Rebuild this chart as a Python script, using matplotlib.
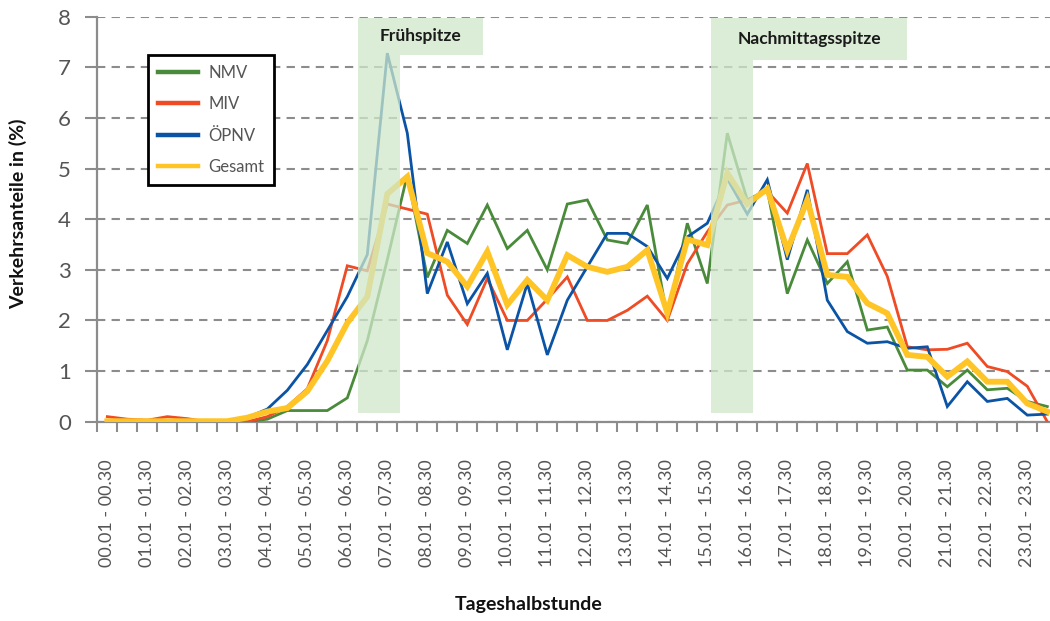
import matplotlib
matplotlib.use("Agg")
import matplotlib.pyplot as plt
from matplotlib.patches import Polygon
import numpy as np

plt.rcParams['font.family'] = ['Lato', 'DejaVu Sans']

# Tageshalbstunden (48 Werte, beschriftet wird jede zweite)
slot_labels = ["00.01 - 00.30", "01.01 - 01.30", "02.01 - 02.30", "03.01 - 03.30",
               "04.01 - 04.30", "05.01 - 05.30", "06.01 - 06.30", "07.01 - 07.30",
               "08.01 - 08.30", "09.01 - 09.30", "10.01 - 10.30", "11.01 - 11.30",
               "12.01 - 12.30", "13.01 - 13.30", "14.01 - 14.30", "15.01 - 15.30",
               "16.01 - 16.30", "17.01 - 17.30", "18.01 - 18.30", "19.01 - 19.30",
               "20.01 - 20.30", "21.01 - 21.30", "22.01 - 22.30", "23.01 - 23.30"]

nmv = [0, 0, 0, 0, 0, 0, 0, 0, 0.05, 0.22, 0.22, 0.22, 0.47, 1.6, 3.2, 4.88,
       2.85, 3.78, 3.52, 4.28, 3.42, 3.78, 3.0, 4.3, 4.38, 3.59, 3.52, 4.28, 2.05, 3.92,
       2.73, 5.7, 4.38, 4.58, 2.53, 3.59, 2.73, 3.16, 1.81, 1.87, 1.02, 1.02, 0.69, 1.02,
       0.63, 0.66, 0.4, 0.3]
miv = [0.1, 0.05, 0.03, 0.1, 0.06, 0, 0, 0, 0.1, 0.3, 0.65, 1.6, 3.08, 2.98, 4.3, 4.2,
       4.1, 2.5, 1.92, 2.83, 2.0, 2.0, 2.42, 2.86, 2.0, 2.0, 2.2, 2.48, 2.0, 3.12,
       3.75, 4.28, 4.38, 4.55, 4.12, 5.1, 3.32, 3.32, 3.69, 2.87, 1.48, 1.42, 1.43, 1.55,
       1.09, 0.99, 0.7, 0.0]
opnv = [0, 0, 0, 0, 0, 0, 0.02, 0.08, 0.25, 0.62, 1.13, 1.8, 2.47, 3.3, 7.28, 5.7,
        2.53, 3.55, 2.33, 2.93, 1.42, 2.73, 1.32, 2.4, 3.06, 3.72, 3.72, 3.46, 2.83, 3.65,
        3.92, 4.8, 4.1, 4.78, 3.2, 4.58, 2.4, 1.78, 1.55, 1.58, 1.45, 1.48, 0.3, 0.79,
        0.4, 0.46, 0.13, 0.15]
gesamt = [0.01, 0.01, 0.01, 0.01, 0.01, 0.01, 0.01, 0.08, 0.2, 0.27, 0.6, 1.2, 1.95, 2.47, 4.5, 4.84,
          3.33, 3.16, 2.67, 3.36, 2.31, 2.8, 2.4, 3.29, 3.06, 2.96, 3.06, 3.39, 2.15, 3.6,
          3.49, 4.91, 4.3, 4.6, 3.39, 4.38, 2.9, 2.86, 2.34, 2.14, 1.32, 1.28, 0.89, 1.19,
          0.79, 0.79, 0.36, 0.2]

series = [("NMV", nmv, "#4a8b3b", 2.0),
          ("MIV", miv, "#ef4b24", 2.0),
          ("ÖPNV", opnv, "#0a53a5", 2.0),
          ("Gesamt", gesamt, "#ffc425", 4.2)]

# Spitzen: (Text, Band von/bis, Kasten bis, Kastenunterkante)
peaks = [("Frühspitze", 12.53, 14.63, 18.8, 7.25),
         ("Nachmittagsspitze", 30.17, 32.27, 40.0, 7.15)]

fig = plt.figure(figsize=(10.5, 6.21), dpi=100)
ax = fig.add_axes([97.3 / 1050, 199.3 / 621, 960 / 1050, 405 / 621])

x = np.arange(len(nmv))
for name, vals, col, lw in series:
    ax.plot(x, vals, color=col, lw=lw, label=name, zorder=3, solid_joinstyle='miter')

for text, x0, x1, xb, yb in peaks:
    poly = Polygon([(x0, 0.18), (x1, 0.18), (x1, yb), (xb, yb), (xb, 7.97), (x0, 7.97)],
                   closed=True, facecolor='#cfe8c9', edgecolor='none', alpha=0.75, zorder=5)
    ax.add_patch(poly)
    ax.text((x0 + xb) / 2, (yb + 7.97) / 2, text, ha='center', va='center',
            fontsize=12.5, fontweight='bold', color='#1a1a1a', zorder=6)

ax.set_xlim(-0.5, 47.5)
ax.set_ylim(0, 8)
ax.set_yticks(range(9))
ax.set_xticks(np.arange(0, 48, 2))
ax.set_xticklabels(slot_labels, rotation=90, fontsize=13, color='#555555')
ax.set_xticks(np.arange(-0.5, 48, 1), minor=True)
ax.tick_params(axis='x', which='major', length=0, pad=27)
ax.tick_params(axis='x', which='minor', length=7, width=1.5, color='#8c8c8c', direction='out')
ax.tick_params(axis='y', length=9, width=1.5, color='#8c8c8c', pad=10,
               labelsize=16, labelcolor='#555555')

ax.grid(axis='y', color='#8c8c8c', lw=1.5, linestyle=(0, (4, 3)), zorder=1)
ax.set_axisbelow(True)
for s in ['top', 'right']:
    ax.spines[s].set_visible(False)
for s in ['left', 'bottom']:
    ax.spines[s].set_color('#8c8c8c')
    ax.spines[s].set_linewidth(1.6)

leg = ax.legend(loc='upper left', bbox_to_anchor=(148 / 1050, 1 - 55 / 621),
                bbox_transform=fig.transFigure, borderaxespad=0, fancybox=False,
                edgecolor='black', framealpha=1, handlelength=2.4,
                handletextpad=0.6, labelspacing=0.92, borderpad=0.6,
                prop={'size': 12})
leg.get_frame().set_linewidth(2)
for t in leg.get_texts():
    t.set_color('#555555')
for h in leg.get_lines():
    h.set_linewidth(3.2)

fig.text(18 / 1050, 0.655, "Verkehrsanteile in (%)", rotation=90, ha='center', va='center',
         fontsize=14, fontweight='bold', color='#111111')
fig.text(529 / 1050, 0.027, "Tageshalbstunde", ha='center', va='center',
         fontsize=14, fontweight='bold', color='#111111')

fig.savefig("out.png", dpi=100)
